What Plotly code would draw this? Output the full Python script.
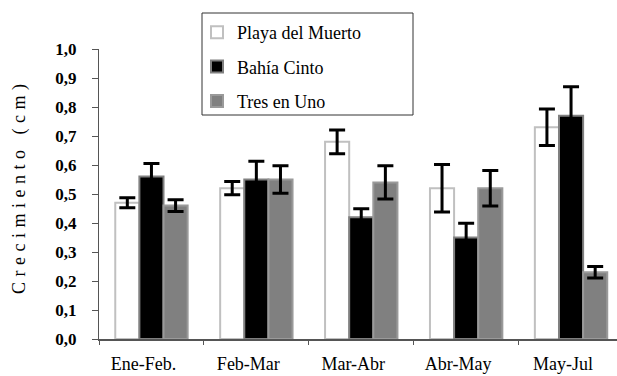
import plotly.graph_objects as go

# Monthly growth intervals
periods = ["Ene-Feb.", "Feb-Mar", "Mar-Abr", "Abr-May", "May-Jul"]

# Mean growth (cm) and error per site
playa_muerto = [0.47, 0.52, 0.68, 0.52, 0.73]
playa_muerto_err = [0.017, 0.023, 0.041, 0.082, 0.063]

bahia_cinto = [0.56, 0.55, 0.42, 0.35, 0.77]
bahia_cinto_err = [0.045, 0.063, 0.029, 0.049, 0.10]

tres_en_uno = [0.46, 0.55, 0.54, 0.52, 0.23]
tres_en_uno_err = [0.02, 0.047, 0.057, 0.061, 0.02]

y_ticks = [0.0, 0.1, 0.2, 0.3, 0.4, 0.5, 0.6, 0.7, 0.8, 0.9, 1.0]

SERIF = "Liberation Serif, Times New Roman, serif"

# Figure geometry (pixels)
W, H = 617, 376
ML, MR, MT, MB = 99, 0, 49, 37
PW, PH = W - ML - MR, H - MT - MB


def px_x(px):
    return (px - ML) / PW


def px_y(py):
    return (H - MB - py) / PH


series = [
    ("Playa del Muerto", playa_muerto, playa_muerto_err, "#ffffff", "#c0c0c0"),
    ("Bahía Cinto", bahia_cinto, bahia_cinto_err, "#000000", "#808080"),
    ("Tres en Uno", tres_en_uno, tres_en_uno_err, "#808080", "#9a9a9a"),
]

fig = go.Figure()
for i, (name, vals, errs, fill, edge) in enumerate(series):
    fig.add_trace(go.Bar(
        name=name,
        x=periods,
        y=vals,
        legendgroup=f"g{i}",
        marker=dict(color=fill, line=dict(color=edge, width=2)),
        error_y=dict(type="data", array=errs, visible=True,
                     color="#000000", thickness=3, width=8),
    ))

fig.update_layout(
    width=W,
    height=H,
    margin=dict(l=ML, r=MR, t=MT, b=MB, autoexpand=False),
    paper_bgcolor="white",
    plot_bgcolor="white",
    separators=",.",
    barmode="group",
    bargap=0.31,
    bargroupgap=0,
    font=dict(family=SERIF, color="#000000"),
    showlegend=True,
    legend=dict(
        x=197 / W, xanchor="left",
        y=1 - 14 / H, yanchor="top",
        xref="container", yref="container",
        borderwidth=0,
        bgcolor="rgba(0,0,0,0)",
        font=dict(family=SERIF, size=18, color="#000000"),
        traceorder="grouped",
        tracegroupgap=8,
        itemclick=False,
    ),
    # legend frame
    shapes=[dict(
        type="rect", xref="paper", yref="paper",
        x0=px_x(202), x1=px_x(413), y0=px_y(115), y1=px_y(13),
        line=dict(color="#333333", width=1),
        fillcolor="white", layer="above",
    )],
    annotations=[dict(
        text='<span style="letter-spacing:5.5px">Crecimiento (cm)</span>',
        xref="paper", yref="paper",
        x=px_x(19), y=px_y(187),
        xanchor="center", yanchor="middle",
        textangle=-90, showarrow=False,
        font=dict(family=SERIF, size=18, color="#000000"),
    )],
)

fig.update_xaxes(
    type="category",
    range=[-0.5, 4.438],
    showline=True, linecolor="#555555", linewidth=1.5,
    ticks="outside", tickson="boundaries", ticklen=4,
    tickcolor="#555555", tickwidth=1,
    tickfont=dict(family=SERIF, size=18, color="#000000"),
    tickangle=0,
    ticklabelshift=-8,
    ticklabelstandoff=8,
    showgrid=False, zeroline=False,
    automargin=False,
)

fig.update_yaxes(
    range=[0, 1],
    tickvals=y_ticks,
    tickformat=".1f",
    showline=True, linecolor="#555555", linewidth=1,
    ticks="outside", ticklen=6, tickcolor="#555555", tickwidth=1,
    tickfont=dict(family=SERIF, size=17, color="#000000", weight="bold"),
    ticklabelstandoff=12,
    showgrid=False, zeroline=False,
    automargin=False,
)

fig.write_html("out.html")
